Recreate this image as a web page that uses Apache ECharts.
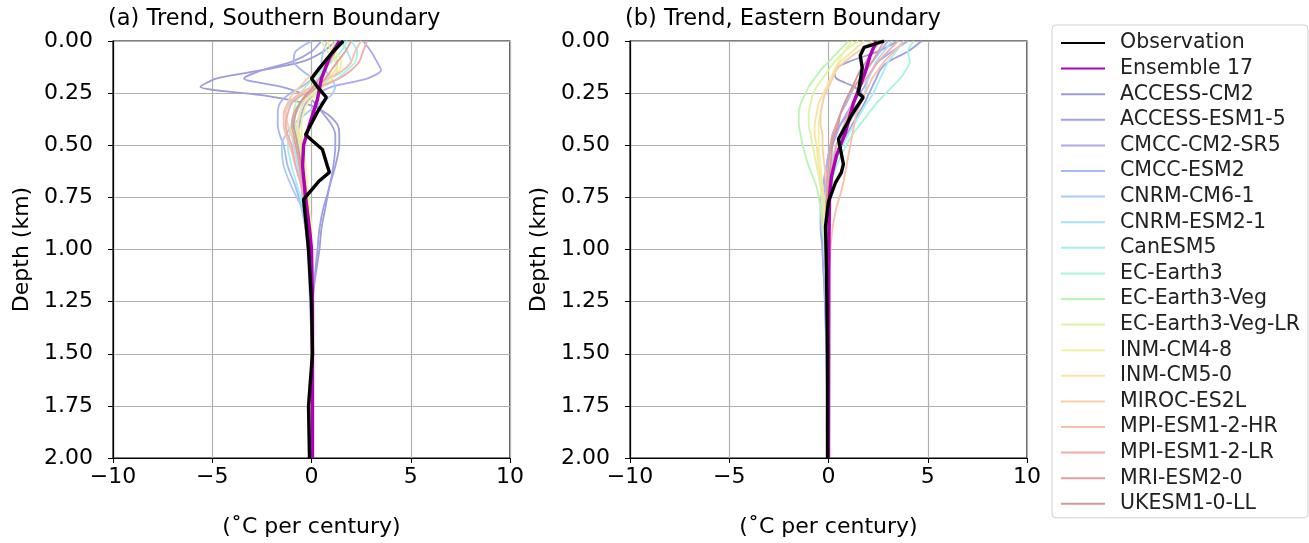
<!DOCTYPE html>
<html>
<head>
<meta charset="utf-8">
<script src="https://cdn.jsdelivr.net/npm/echarts@6/dist/echarts.min.js"></script>
<style>
  html, body { margin: 0; padding: 0; background: #fff; }
  #chart { width: 1309px; height: 543px; }
</style>
</head>
<body>
<div id="chart"></div>
<script>
// depth levels (km) shared by the model profiles
const depths = [0, 0.05, 0.1, 0.14, 0.18, 0.22, 0.26, 0.3, 0.35, 0.4, 0.45, 0.5, 0.6, 0.7, 0.8, 0.9, 1.0, 1.2, 1.5, 2.0];

const modelNames = [
  "ACCESS-CM2", "ACCESS-ESM1-5", "CMCC-CM2-SR5", "CMCC-ESM2", "CNRM-CM6-1",
  "CNRM-ESM2-1", "CanESM5", "EC-Earth3", "EC-Earth3-Veg", "EC-Earth3-Veg-LR",
  "INM-CM4-8", "INM-CM5-0", "MIROC-ES2L", "MPI-ESM1-2-HR", "MPI-ESM1-2-LR",
  "MRI-ESM2-0", "UKESM1-0-LL"
];
const modelColors = [
  "#9c9cd6", "#a0a0ea", "#aca8f2", "#a8b8f4", "#a8ccf8",
  "#a8e0f8", "#a4f0f0", "#a8f4dc", "#b8f4b8", "#dcf4a8",
  "#f0f2a0", "#f8e4a0", "#f8d0a8", "#f8c0a8", "#f0aca8",
  "#e0a0a0", "#d09898"
];

// (a) southern boundary, trend per model at each depth
const southModels = [
  [1.2, 0.6, -0.5, -2.5, -4.8, -5.6, -2.5, -0.3, 0.8, 1.3, 1.4, 1.4, 1.2, 0.9, 0.7, 0.5, 0.4, 0.1, 0.0, 0.0],
  [0.5, 0.0, -1.0, -2.5, -3.4, -1.5, -0.3, 0.2, 0.6, 1.0, 1.2, 1.2, 1.1, 0.9, 0.6, 0.4, 0.3, 0.1, 0.0, 0.0],
  [2.6, 3.0, 3.3, 3.5, 2.8, 1.0, 0.2, -0.3, -0.5, -0.6, -0.7, -0.7, -0.6, -0.5, -0.4, -0.3, -0.2, -0.1, 0.0, 0.0],
  [0.0, -0.8, -0.9, -0.5, 0.0, -0.5, -1.2, -1.6, -1.7, -1.7, -1.6, -1.4, -1.2, -0.8, -0.5, -0.3, -0.1, 0.0, 0.0, 0.0],
  [0.8, 0.6, 0.5, 0.7, 1.0, 1.2, 1.0, 0.4, -0.3, -0.9, -1.3, -1.5, -1.4, -1.0, -0.5, -0.3, -0.1, 0.0, 0.0, 0.0],
  [1.5, 1.8, 2.0, 1.6, 1.0, 0.3, -0.5, -1.1, -1.3, -1.2, -1.0, -0.9, -0.7, -0.5, -0.3, -0.2, -0.1, 0.0, 0.0, 0.0],
  [2.0, 2.3, 2.2, 1.8, 1.3, 0.6, 0.0, -0.5, -0.8, -1.0, -1.1, -1.2, -1.0, -0.7, -0.4, -0.2, -0.1, 0.0, 0.0, 0.0],
  [1.8, 1.5, 1.0, 0.6, 0.3, 0.0, -0.3, -0.6, -0.8, -0.9, -0.8, -0.7, -0.5, -0.3, -0.2, -0.1, 0.0, 0.0, 0.0, 0.0],
  [1.2, 1.0, 0.8, 0.5, 0.1, -0.3, -0.6, -0.8, -0.9, -0.8, -0.7, -0.6, -0.4, -0.3, -0.2, -0.1, 0.0, 0.0, 0.0, 0.0],
  [0.5, 0.8, 1.2, 1.3, 1.0, 0.5, 0.0, -0.4, -0.6, -0.7, -0.7, -0.6, -0.5, -0.3, -0.2, -0.1, 0.0, 0.0, 0.0, 0.0],
  [1.0, 1.2, 1.5, 1.4, 1.0, 0.6, 0.2, -0.2, -0.4, -0.5, -0.5, -0.4, -0.3, -0.2, -0.1, 0.0, 0.0, 0.0, 0.0, 0.0],
  [0.8, 1.0, 1.3, 1.2, 0.8, 0.3, -0.1, -0.4, -0.6, -0.7, -0.6, -0.5, -0.4, -0.3, -0.2, -0.1, 0.0, 0.0, 0.0, 0.0],
  [1.5, 1.2, 0.8, 0.3, -0.2, -0.6, -1.0, -1.2, -1.3, -1.2, -1.0, -0.8, -0.6, -0.4, -0.3, -0.2, -0.1, 0.0, 0.0, 0.0],
  [2.5, 2.2, 2.0, 1.6, 0.8, 0.0, -0.7, -1.2, -1.4, -1.4, -1.3, -1.1, -0.8, -0.5, -0.3, -0.2, -0.1, 0.0, 0.0, 0.0],
  [2.8, 2.6, 2.4, 2.0, 1.4, 0.4, -0.5, -1.0, -1.2, -1.3, -1.2, -1.0, -0.8, -0.5, -0.3, -0.2, -0.1, 0.0, 0.0, 0.0],
  [2.0, 1.7, 1.3, 1.0, 0.7, 0.3, -0.2, -0.6, -0.9, -1.0, -0.9, -0.8, -0.6, -0.4, -0.3, -0.2, -0.1, 0.0, 0.0, 0.0],
  [1.5, 1.2, 0.9, 0.7, 0.4, 0.1, -0.3, -0.6, -0.8, -0.9, -0.8, -0.7, -0.5, -0.3, -0.2, -0.1, 0.0, 0.0, 0.0, 0.0]
];

// (b) eastern boundary
const eastModels = [
  [3.5, 2.5, 1.0, 0.3, 0.4, 1.3, 1.7, 1.5, 1.0, 0.6, 0.3, 0.1, -0.1, -0.2, -0.2, -0.2, -0.2, -0.1, -0.1, 0.0],
  [4.7, 4.0, 3.0, 2.6, 2.4, 2.2, 2.0, 1.8, 1.5, 1.2, 0.9, 0.6, 0.2, -0.1, -0.3, -0.3, -0.3, -0.2, -0.1, 0.0],
  [4.0, 3.2, 2.5, 2.2, 2.0, 1.8, 1.5, 1.2, 0.9, 0.6, 0.4, 0.2, -0.1, -0.3, -0.4, -0.4, -0.3, -0.2, -0.1, 0.0],
  [3.0, 2.6, 2.2, 1.9, 1.6, 1.3, 1.1, 0.9, 0.6, 0.4, 0.2, 0.1, -0.1, -0.2, -0.3, -0.3, -0.2, -0.1, -0.1, 0.0],
  [2.5, 2.2, 2.0, 1.8, 1.6, 1.5, 1.4, 1.2, 1.0, 0.8, 0.6, 0.4, 0.1, -0.1, -0.2, -0.2, -0.2, -0.1, 0.0, 0.0],
  [3.2, 2.8, 2.4, 2.2, 2.0, 1.9, 1.8, 1.6, 1.3, 1.0, 0.7, 0.4, 0.1, -0.1, -0.2, -0.2, -0.2, -0.1, 0.0, 0.0],
  [3.8, 3.4, 3.0, 2.8, 2.6, 2.4, 2.2, 1.9, 1.6, 1.3, 1.0, 0.7, 0.3, 0.0, -0.1, -0.2, -0.2, -0.1, 0.0, 0.0],
  [4.3, 4.0, 4.1, 3.9, 3.6, 3.2, 2.8, 2.4, 2.0, 1.6, 1.2, 0.9, 0.4, 0.1, -0.1, -0.2, -0.2, -0.1, 0.0, 0.0],
  [1.0, 0.5, 0.0, -0.4, -0.7, -1.0, -1.2, -1.4, -1.5, -1.5, -1.4, -1.3, -1.0, -0.6, -0.4, -0.3, -0.2, -0.1, 0.0, 0.0],
  [1.5, 0.8, 0.3, 0.0, -0.3, -0.6, -0.8, -0.9, -1.0, -1.0, -0.9, -0.8, -0.6, -0.4, -0.3, -0.2, -0.1, -0.1, 0.0, 0.0],
  [1.2, 0.8, 0.5, 0.3, 0.2, 0.0, -0.2, -0.3, -0.4, -0.5, -0.5, -0.5, -0.4, -0.3, -0.2, -0.2, -0.1, -0.1, 0.0, 0.0],
  [1.8, 1.2, 0.6, 0.3, 0.1, -0.1, -0.3, -0.5, -0.6, -0.7, -0.7, -0.6, -0.5, -0.3, -0.2, -0.2, -0.1, -0.1, 0.0, 0.0],
  [2.2, 1.5, 0.8, 0.4, 0.2, 0.0, -0.2, -0.3, -0.4, -0.4, -0.3, -0.3, -0.2, -0.1, -0.1, -0.1, 0.0, 0.0, 0.0, 0.0],
  [3.8, 3.3, 2.8, 2.5, 2.2, 2.0, 1.8, 1.6, 1.4, 1.3, 1.2, 1.1, 0.9, 0.7, 0.4, 0.2, 0.1, 0.0, 0.0, 0.0],
  [3.5, 3.0, 2.5, 2.2, 1.9, 1.6, 1.4, 1.2, 1.0, 0.8, 0.6, 0.4, 0.2, 0.0, -0.1, -0.1, -0.1, 0.0, 0.0, 0.0],
  [2.8, 2.5, 2.2, 1.9, 1.6, 1.3, 1.0, 0.8, 0.6, 0.4, 0.2, 0.1, 0.0, -0.1, -0.1, -0.1, -0.1, 0.0, 0.0, 0.0],
  [2.6, 2.2, 1.9, 1.6, 1.4, 1.2, 1.0, 0.8, 0.6, 0.5, 0.3, 0.2, 0.1, 0.0, -0.1, -0.1, -0.1, 0.0, 0.0, 0.0]
];

// observation and ensemble mean: [trend, depth]
const southObs = [[1.6, 0], [1.0, 0.06], [0.4, 0.13], [0.0, 0.18], [0.3, 0.22], [0.75, 0.27], [0.3, 0.34],
  [-0.3, 0.45], [0.55, 0.52], [0.8, 0.6], [0.9, 0.63], [0.4, 0.67], [-0.4, 0.76], [-0.3, 0.85],
  [-0.15, 1.0], [0.0, 1.25], [0.05, 1.5], [-0.15, 1.75], [-0.1, 2.0]];
const southEns = [[1.4, 0], [0.9, 0.08], [0.5, 0.18], [0.3, 0.28], [-0.1, 0.4], [-0.4, 0.5], [-0.45, 0.6],
  [-0.3, 0.75], [-0.1, 0.9], [0.0, 1.0], [0.05, 1.25], [0.05, 1.5], [0.05, 1.75], [0.05, 2.0]];
const eastObs = [[2.8, 0], [1.8, 0.03], [1.6, 0.07], [1.7, 0.13], [1.5, 0.25], [1.75, 0.27], [1.2, 0.35],
  [0.5, 0.47], [0.75, 0.59], [0.65, 0.63], [0.35, 0.68], [0.0, 0.77], [-0.15, 0.89], [-0.1, 1.1],
  [-0.05, 1.5], [-0.05, 2.0]];
const eastEns = [[2.4, 0], [2.1, 0.07], [1.85, 0.15], [1.25, 0.3], [0.85, 0.44], [0.4, 0.55], [0.15, 0.65],
  [0.05, 0.75], [0.02, 1.0], [0.0, 2.0]];

const titles = ["(a) Trend, Southern Boundary", "(b) Trend, Eastern Boundary"];

const FONT = "DejaVu Sans";
const chart = echarts.init(document.getElementById("chart"));

const fmtX = (v) => (v < 0 ? "\u2212" + Math.abs(v) : String(v));

function panelSeries(models, obs, ens, idx) {
  const out = [];
  models.forEach((vals, i) => {
    out.push({
      name: modelNames[i],
      type: "line",
      xAxisIndex: idx,
      yAxisIndex: idx,
      symbol: "none",
      smooth: 0.25,
      lineStyle: { color: modelColors[i], width: 1.8 },
      itemStyle: { color: modelColors[i] },
      data: vals.map((v, k) => [v, depths[k]]),
      z: 2,
    });
  });
  out.push({
    name: "Ensemble 17", type: "line", xAxisIndex: idx, yAxisIndex: idx,
    symbol: "none", lineStyle: { color: "#b000b8", width: 3.4 },
    itemStyle: { color: "#b000b8" }, data: ens, z: 3,
  });
  out.push({
    name: "Observation", type: "line", xAxisIndex: idx, yAxisIndex: idx,
    symbol: "none", lineStyle: { color: "#000", width: 3.4 },
    itemStyle: { color: "#000" }, data: obs, z: 4,
  });
  return out;
}

const grids = [
  { left: 113, top: 41, width: 397, height: 420 },
  { left: 630, top: 41, width: 397, height: 420 },
];

const xAxes = grids.map((g, i) => ({
  type: "value", gridIndex: i, min: -10, max: 10, interval: 5,
  name: "(\u02DAC per century)", nameLocation: "middle", nameGap: 58,
  nameTextStyle: { fontFamily: FONT, fontSize: 22, color: "#000" },
  axisLine: { show: true, onZero: false, lineStyle: { color: "#000", width: 1.2 } },
  axisTick: { show: true, length: 5, lineStyle: { color: "#000" } },
  axisLabel: { fontFamily: FONT, fontSize: 22, color: "#000", margin: 8, formatter: fmtX },
  splitLine: { show: true, lineStyle: { color: "#b0b0b0", width: 1.2 } },
}));

const yAxes = grids.map((g, i) => ({
  type: "value", gridIndex: i, min: 0, max: 2, interval: 0.25, inverse: true,
  name: "Depth (km)", nameLocation: "middle", nameGap: 80, nameRotate: 90,
  nameTextStyle: { fontFamily: FONT, fontSize: 22, color: "#000" },
  axisLine: { show: true, onZero: false, lineStyle: { color: "#000", width: 1.2 } },
  axisTick: { show: true, length: 5, lineStyle: { color: "#000" } },
  axisLabel: { fontFamily: FONT, fontSize: 22, color: "#000", margin: 20, formatter: (v) => v.toFixed(2) },
  splitLine: { show: true, lineStyle: { color: "#b0b0b0", width: 1.2 } },
}));

const option = {
  animation: false,
  backgroundColor: "#fff",
  title: titles.map((t, i) => ({
    text: t, left: grids[i].left - 5, top: 8, padding: 0,
    textStyle: { fontFamily: FONT, fontSize: 22.5, fontWeight: "normal", color: "#000" },
  })),
  grid: grids.map((g) => Object.assign({ show: true, borderColor: "#000", borderWidth: 1.2, backgroundColor: "transparent" }, g)),
  xAxis: xAxes,
  yAxis: yAxes,
  legend: {
    orient: "vertical", left: 1052, top: 25,
    data: ["Observation", "Ensemble 17"].concat(modelNames),
    itemWidth: 44, itemHeight: 14, itemGap: 3.6,
    padding: [7, 8, 3, 8],
    itemStyle: { opacity: 0 },
    borderColor: "#d0d0d0", borderWidth: 1, borderRadius: 4,
    textStyle: { fontFamily: FONT, fontSize: 20.5, lineHeight: 22, color: "#222", padding: [0, 0, 0, 10] },
  },
  series: panelSeries(southModels, southObs, southEns, 0).concat(panelSeries(eastModels, eastObs, eastEns, 1)),
};

chart.setOption(option);
</script>
</body>
</html>
